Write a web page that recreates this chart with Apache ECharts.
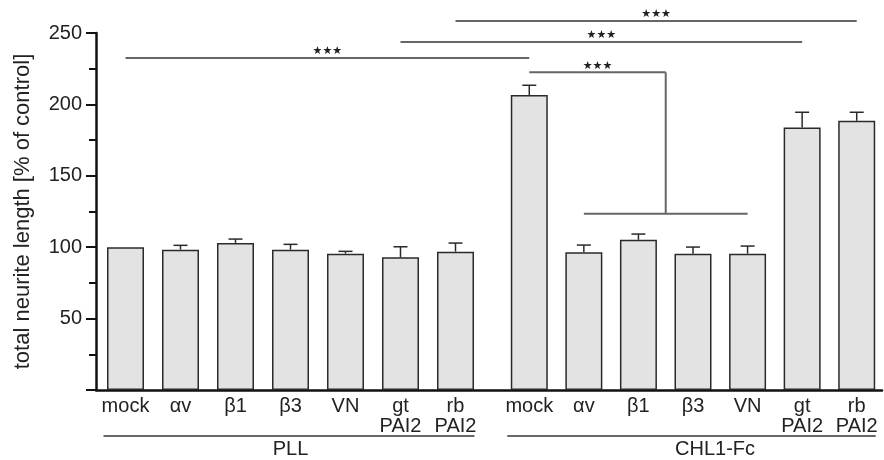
<!DOCTYPE html>
<html>
<head>
<meta charset="utf-8">
<script src="https://cdn.jsdelivr.net/npm/echarts@6/dist/echarts.min.js"></script>
<style>
html, body { margin: 0; padding: 0; background: #fff; }
#main { width: 884px; height: 460px; }
</style>
</head>
<body>
<div id="main"></div>
<script>
// data
let categories = ["mock", "αv", "β1", "β3", "VN", "gt\nPAI2", "rb\nPAI2"];
let groups = ["PLL", "CHL1-Fc"];
let pllValues = [100, 98.3, 103, 98.3, 95.5, 92.9, 96.9];
let pllErrors = [0, 3, 2.7, 3.7, 1.6, 7.4, 6];
let chlValues = [206.6, 96.4, 105.2, 95.5, 95.5, 183.8, 188.5];
let chlErrors = [6.8, 5.1, 4, 4.6, 5.3, 10.7, 6];
let yTicks = [50, 100, 150, 200, 250];
// significance bars between groups: [from category, to category, height]
let sigLines = [[0, 0, 232.5], [5, 5, 243.7], [6, 6, 258.4]];
// bracket inside CHL1-Fc: mock vs. αv..VN
let bracketTop = 222.5;
let bracketLow = 123.4;

const font = "Liberation Sans, Arial, sans-serif";
const ink = "#222";

let chart = echarts.init(document.getElementById("main"));

function errorSeries(grid, values, errors) {
  return {
    type: "custom",
    xAxisIndex: grid,
    yAxisIndex: grid,
    z: 3,
    data: values.map((v, i) => [i, v, errors[i]]),
    encode: { x: 0, y: 1 },
    renderItem: function (params, api) {
      let e = api.value(2);
      if (!e) return null;
      let base = api.coord([api.value(0), api.value(1)]);
      let top = api.coord([api.value(0), api.value(1) + e]);
      let st = { stroke: "#2a2a2a", lineWidth: 1.5 };
      return {
        type: "group",
        children: [
          { type: "line", shape: { x1: base[0], y1: base[1], x2: top[0], y2: top[1] }, style: st },
          { type: "line", shape: { x1: top[0] - 7, y1: top[1], x2: top[0] + 7, y2: top[1] }, style: st }
        ]
      };
    }
  };
}

function barSeries(grid, values) {
  return {
    type: "bar",
    xAxisIndex: grid,
    yAxisIndex: grid,
    barWidth: 37,
    data: values,
    itemStyle: { color: "#e3e3e3", borderColor: "#2a2a2a", borderWidth: 1.5 }
  };
}

function catAxis(grid) {
  return {
    type: "category",
    gridIndex: grid,
    data: categories,
    axisLine: { show: false },
    axisTick: { show: false },
    axisLabel: { interval: 0, margin: 6, fontSize: 20, lineHeight: 20, color: ink, fontFamily: font }
  };
}

function hiddenY(grid) {
  return { type: "value", gridIndex: grid, min: 0, max: 250, show: false };
}

chart.setOption({
  animation: false,
  grid: [
    { left: 96, right: 2, top: 33, bottom: 70 },
    { left: 98, width: 385, top: 33, bottom: 70 },
    { left: 502, width: 385, top: 33, bottom: 70 }
  ],
  xAxis: [
    {
      type: "value", gridIndex: 0, min: 0, max: 1,
      axisLine: { show: true, lineStyle: { color: "#111", width: 2.5 } },
      axisTick: { show: false }, axisLabel: { show: false }, splitLine: { show: false }
    },
    catAxis(1),
    catAxis(2)
  ],
  yAxis: [
    {
      type: "value", gridIndex: 0, min: 0, max: 250, interval: 50,
      name: "total neurite length [% of control]",
      nameLocation: "middle",
      nameGap: 62,
      nameTextStyle: { fontSize: 22, color: ink, fontFamily: font },
      axisLine: { show: true, lineStyle: { color: "#111", width: 2.5 } },
      axisTick: { show: true, length: 10, lineStyle: { color: "#111", width: 2 } },
      minorTick: { show: true, splitNumber: 2, length: 7, lineStyle: { color: "#111", width: 2 } },
      splitLine: { show: false },
      axisLabel: {
        margin: 14, fontSize: 20, color: ink, fontFamily: font,
        formatter: v => (yTicks.indexOf(v) >= 0 ? String(v) : "")
      }
    },
    hiddenY(1),
    hiddenY(2)
  ],
  series: [
    barSeries(1, pllValues),
    barSeries(2, chlValues),
    errorSeries(1, pllValues, pllErrors),
    errorSeries(2, chlValues, chlErrors)
  ]
});

// annotation lines, positioned through the grids' own scales
function px(grid, cat, val) {
  return chart.convertToPixel({ gridIndex: grid }, [cat, val]);
}
let lineStyle = { stroke: "#666", lineWidth: 2 };
let els = [];
function hline(x1, x2, y, st) {
  els.push({ type: "line", shape: { x1: x1, y1: y, x2: x2, y2: y }, style: st || lineStyle });
}
function stars(x, y) {
  els.push({
    type: "text", x: x, y: y - 1,
    style: {
      text: "★★★", fill: ink, font: "11px DejaVu Sans",
      align: "center", verticalAlign: "bottom", textAlign: "center", textVerticalAlign: "bottom"
    }
  });
}
sigLines.forEach(s => {
  let a = px(1, s[0], s[2]);
  let b = px(2, s[1], s[2]);
  hline(a[0], b[0], a[1]);
  stars((a[0] + b[0]) / 2, a[1]);
});
// bracket
let m = px(2, 0, bracketTop);
let c2 = px(2, 2, bracketLow);
let c3 = px(2, 3, bracketLow);
let midX = (c2[0] + c3[0]) / 2;
let lowL = px(2, 1, bracketLow);
let lowR = px(2, 4, bracketLow);
hline(m[0], midX, m[1]);
els.push({ type: "line", shape: { x1: midX, y1: m[1], x2: midX, y2: c2[1] }, style: lineStyle });
hline(lowL[0], lowR[0], c2[1]);
stars((m[0] + midX) / 2, m[1]);

// group underlines and names
let groupStyle = { stroke: "#333", lineWidth: 1.5 };
groups.forEach((g, k) => {
  let first = px(k + 1, 0, 0);
  let last = px(k + 1, categories.length - 1, 0);
  let y = first[1] + 46;
  hline(first[0] - 22, last[0] + 19, y, groupStyle);
  els.push({
    type: "text", x: (first[0] + last[0]) / 2 + (k ? 22 : 0), y: y + 3,
    style: {
      text: g, fill: ink, font: "20px " + font,
      align: "center", verticalAlign: "top", textAlign: "center", textVerticalAlign: "top"
    }
  });
});

chart.setOption({ graphic: { elements: els } });
</script>
</body>
</html>
